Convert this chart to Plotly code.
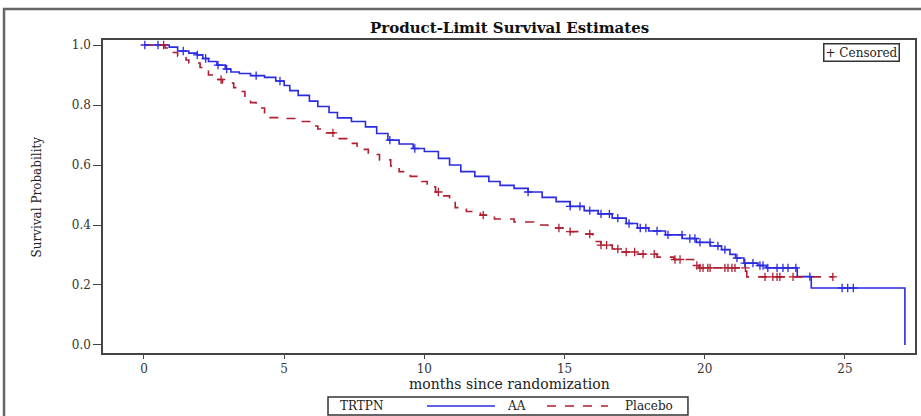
import numpy as np
import plotly.graph_objects as go

# ---- data: Kaplan-Meier step estimates ----
aa_time = [0, 0.9, 1.2, 1.6, 1.9, 2.1, 2.3, 2.6, 2.9, 3.1, 3.4, 3.8, 4.3, 4.7, 5.0, 5.2, 5.5, 5.9,
           6.2, 6.6, 6.9, 7.4, 7.9, 8.3, 8.7, 9.1, 9.6, 10.0, 10.5, 10.9, 11.3, 11.8, 12.3, 12.7,
           13.2, 13.7, 14.2, 14.7, 15.2, 15.7, 16.2, 16.7, 17.2, 17.6, 18.0, 18.6, 19.2, 19.7,
           20.2, 20.6, 20.9, 21.1, 21.4, 21.9, 22.2, 23.3, 23.8, 27.14]
aa_surv = [1.0, 0.993, 0.98, 0.973, 0.967, 0.955, 0.945, 0.933, 0.92, 0.91, 0.905, 0.898, 0.892,
           0.88, 0.865, 0.848, 0.832, 0.813, 0.795, 0.775, 0.757, 0.745, 0.727, 0.705, 0.683, 0.67,
           0.655, 0.645, 0.622, 0.6, 0.578, 0.562, 0.545, 0.532, 0.522, 0.51, 0.492, 0.478, 0.462,
           0.448, 0.437, 0.423, 0.405, 0.39, 0.38, 0.367, 0.355, 0.342, 0.33, 0.318, 0.302, 0.29,
           0.273, 0.265, 0.257, 0.228, 0.19, 0.0]
aa_censor = [0.03, 0.5, 1.4, 1.9, 2.2, 2.64, 2.95, 4.0, 4.85, 8.77, 9.66, 13.7, 15.2, 15.55, 15.9,
             16.3, 16.6, 16.9, 17.3, 17.7, 17.9, 18.3, 18.69, 19.19, 19.47, 19.65, 19.83, 20.19,
             20.47, 20.72, 21.15, 21.43, 21.72, 21.97, 22.08, 22.25, 22.58, 22.79, 22.97, 23.25,
             23.75, 24.9, 25.1, 25.3]

pl_time = [0, 0.75, 1.0, 1.2, 1.5, 1.6, 2.0, 2.3, 2.5, 2.8, 3.2, 3.4, 3.6, 3.8, 4.0, 4.3, 4.5,
           5.0, 5.6, 6.0, 6.2, 6.5, 6.9, 7.3, 7.6, 8.0, 8.4, 8.8, 9.1, 9.5, 9.9, 10.1, 10.4, 10.6,
           10.9, 11.1, 11.5, 12.0, 12.5, 13.2, 13.9, 14.4, 15.0, 15.5, 16.0, 16.3, 16.7, 17.0,
           17.6, 18.3, 18.9, 19.6, 19.8, 21.5, 24.6]
pl_surv = [1.0, 0.99, 0.975, 0.963, 0.95, 0.94, 0.925, 0.9, 0.885, 0.873, 0.858, 0.845, 0.825,
           0.808, 0.79, 0.77, 0.758, 0.755, 0.745, 0.73, 0.72, 0.707, 0.688, 0.672, 0.652, 0.635,
           0.617, 0.597, 0.578, 0.562, 0.545, 0.527, 0.51, 0.497, 0.475, 0.458, 0.445, 0.433, 0.42,
           0.41, 0.4, 0.39, 0.378, 0.37, 0.345, 0.333, 0.32, 0.31, 0.303, 0.293, 0.285, 0.265,
           0.257, 0.227, 0.227]
pl_censor = [0.7, 2.75, 6.74, 10.5, 12.1, 14.8, 15.2, 15.9, 16.3, 16.5, 16.9, 17.2, 17.5, 17.8,
             18.2, 18.94, 19.12, 19.72, 19.83, 19.94, 20.11, 20.19, 20.72, 20.83, 20.97, 21.08,
             21.45, 22.15, 22.43, 22.58, 22.68, 23.15, 24.57]

x_ticks = [0, 5, 10, 15, 20, 25]
y_ticks = [0.0, 0.2, 0.4, 0.6, 0.8, 1.0]
group_title = "TRTPN"
group_names = ["AA", "Placebo"]

BLUE = "#2b2be0"
RED = "#b01e30"
FONT = "DejaVu Serif"


def km_at(times, surv, t):
    idx = np.searchsorted(np.array(times), np.array(t), side="right") - 1
    return list(np.array(surv)[idx])


fig = go.Figure()
fig.add_trace(go.Scatter(x=aa_time, y=aa_surv, mode="lines", name=group_names[0],
                         showlegend=False,
                         line=dict(color=BLUE, width=1.6, shape="hv")))
fig.add_trace(go.Scatter(x=pl_time, y=pl_surv, mode="lines", name=group_names[1],
                         showlegend=False,
                         line=dict(color=RED, width=1.6, shape="hv", dash="dash")))
fig.add_trace(go.Scatter(x=aa_censor, y=km_at(aa_time, aa_surv, aa_censor), mode="markers",
                         showlegend=False, hoverinfo="skip",
                         marker=dict(symbol="cross-thin", size=6,
                                     line=dict(color=BLUE, width=1.3))))
fig.add_trace(go.Scatter(x=pl_censor, y=km_at(pl_time, pl_surv, pl_censor), mode="markers",
                         showlegend=False, hoverinfo="skip",
                         marker=dict(symbol="cross-thin", size=6,
                                     line=dict(color=RED, width=1.3))))

axis_common = dict(showgrid=False, zeroline=False, showline=True, mirror=True,
                   linecolor="#444", linewidth=1.5, ticks="outside", tickcolor="#444",
                   tickfont=dict(family=FONT, size=12, color="#333"))
fig.update_xaxes(range=[-1.462, 27.5], tickvals=x_ticks, ticklen=4, **axis_common)
fig.update_yaxes(range=[-0.0267, 1.0167], tickvals=y_ticks, tickformat=".1f", ticklen=8,
                 **axis_common)

# legend drawn as layout decoration (paper coordinates)
LEG_Y = -0.1693
legend_shapes = [
    dict(type="rect", xref="paper", yref="paper", x0=0.2771, x1=0.7204, y0=-0.1981,
         y1=-0.1406, line=dict(color="#333", width=1.5), fillcolor="white"),
    dict(type="line", xref="paper", yref="paper", x0=0.399, x1=0.4828, y0=LEG_Y, y1=LEG_Y,
         line=dict(color=BLUE, width=1.6)),
    dict(type="line", xref="paper", yref="paper", x0=0.5468, x1=0.6219, y0=LEG_Y, y1=LEG_Y,
         line=dict(color=RED, width=1.6, dash="dash")),
]
legend_texts = [
    dict(text=group_title, xref="paper", yref="paper", x=0.2894, y=LEG_Y, xanchor="left",
         yanchor="middle", showarrow=False, font=dict(family=FONT, size=12, color="#222")),
    dict(text=group_names[0], xref="paper", yref="paper", x=0.4951, y=LEG_Y, xanchor="left",
         yanchor="middle", showarrow=False, font=dict(family=FONT, size=12, color="#222")),
    dict(text=group_names[1], xref="paper", yref="paper", x=0.6404, y=LEG_Y, xanchor="left",
         yanchor="middle", showarrow=False, font=dict(family=FONT, size=12, color="#222")),
]

fig.update_layout(
    width=921, height=416,
    margin=dict(l=103, r=6, t=40, b=63, autoexpand=False),
    paper_bgcolor="white", plot_bgcolor="white",
    showlegend=False,
    annotations=[
        dict(text="<b>Product-Limit Survival Estimates</b>", xref="paper", yref="paper",
             x=0.5, y=1.038, xanchor="center", yanchor="middle", showarrow=False,
             font=dict(family=FONT, size=15, color="#111")),
        dict(text="Survival Probability", xref="paper", yref="paper", x=-0.0813, y=0.5,
             xanchor="center", yanchor="middle", textangle=-90, showarrow=False,
             font=dict(family=FONT, size=12, color="#222")),
        dict(text="months since randomization", xref="paper", yref="paper", x=0.5,
             y=-0.1, xanchor="center", yanchor="middle", showarrow=False,
             font=dict(family=FONT, size=14, color="#222")),
        dict(text="+ Censored", xref="paper", yref="paper", x=0.982, y=0.992,
             xanchor="right", yanchor="top", showarrow=False,
             bordercolor="#333", borderwidth=1.5, borderpad=1, bgcolor="white",
             font=dict(family=FONT, size=12, color="#222")),
    ] + legend_texts,
    shapes=[
        dict(type="rect", xref="paper", yref="paper", x0=-0.1219, y0=-0.214,
             x1=1.012, y1=1.099, line=dict(color="#666", width=2.5), layer="below"),
    ] + legend_shapes,
)

fig.write_html("out.html")
